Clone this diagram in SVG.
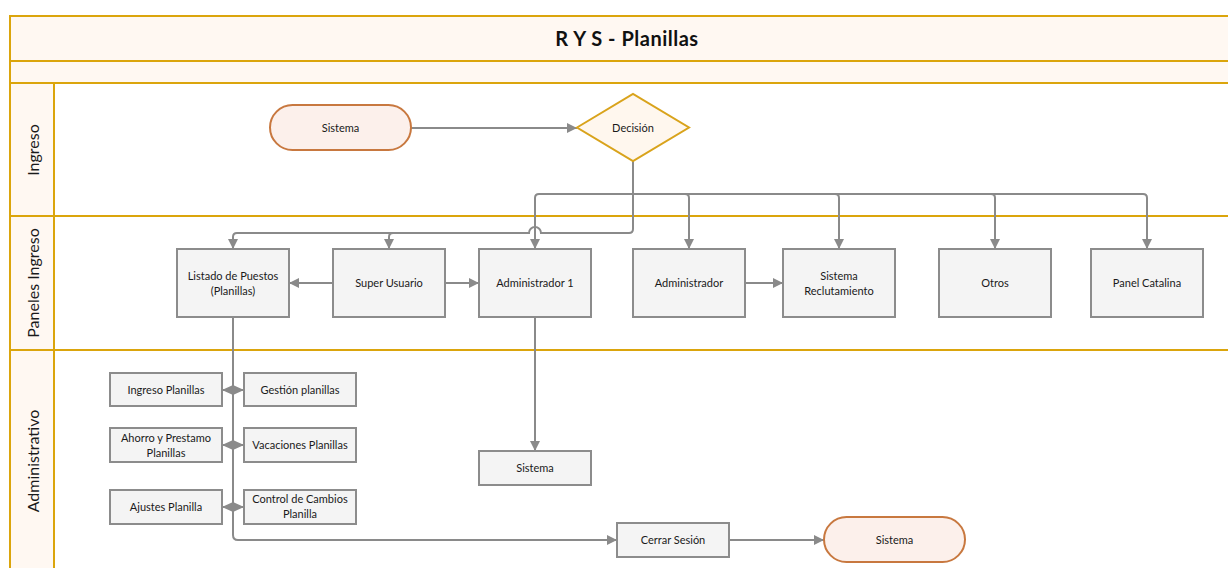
<svg xmlns="http://www.w3.org/2000/svg" width="1228" height="568" viewBox="0 0 1228 568">
  <style>
    .lane { fill: #fff8f2; stroke: #dba50c; stroke-width: 2; }
    .body { fill: #ffffff; stroke: #dba50c; stroke-width: 2; }
    .laneLabel { font-family: Lato, "Open Sans", sans-serif; font-size: 16px; fill: #1a1a1a; text-anchor: middle; }
    .title { font-family: Lato, "Open Sans", sans-serif; font-size: 20px; font-weight: bold; fill: #111; text-anchor: middle; letter-spacing: 0.5px; }
    .box { fill: #f4f4f4; stroke: #8c8c8c; stroke-width: 2; }
    .term { fill: #fcf0eb; stroke: #c8783f; stroke-width: 2; }
    .dec { fill: #fff7ee; stroke: #d9a31b; stroke-width: 2; }
    .lbl { font-family: Lato, "Open Sans", sans-serif; font-size: 11px; fill: #1a1a1a; text-anchor: middle; }
    .conn { fill: none; stroke: #8a8a8a; stroke-width: 2; }
    .arr { marker-end: url(#arrow); }
    .dia { fill: #8a8a8a; stroke: none; }
  </style>
  <defs>
    <marker id="arrow" viewBox="0 0 10 10" refX="10" refY="5" markerUnits="userSpaceOnUse" markerWidth="11" markerHeight="10" orient="auto">
      <path d="M0,0 L10,5 L0,10 z" fill="#8a8a8a"/>
    </marker>
  </defs>

  <!-- swimlane frame -->
  <g id="frame">
    <rect class="lane" x="10" y="16" width="1230" height="45"/>
    <rect class="lane" x="10" y="61" width="1230" height="22"/>
    <rect class="body" x="54" y="83" width="1186" height="133"/>
    <rect class="body" x="54" y="216" width="1186" height="134"/>
    <rect class="body" x="54" y="350" width="1186" height="230"/>
    <rect class="lane" x="10" y="83" width="44" height="133"/>
    <rect class="lane" x="10" y="216" width="44" height="134"/>
    <rect class="lane" x="10" y="350" width="44" height="230"/>
    <text class="title" x="627" y="46">R Y S - Planillas</text>
    <text class="laneLabel" transform="translate(39,150) rotate(-90)">Ingreso</text>
    <text class="laneLabel" transform="translate(39,283) rotate(-90)">Paneles Ingreso</text>
    <text class="laneLabel" transform="translate(39,461) rotate(-90)">Administrativo</text>
  </g>

  <!-- connectors -->
  <g id="connectors">
    <path class="conn arr" d="M411,128 H577"/>
    <!-- decision fan-out -->
    <path class="conn arr" d="M633,161 V229 Q633,233 629,233 H541 A6,6 0 0 0 529,233 H237 Q233,233 233,237 V249"/>
    <path class="conn arr" d="M393,233 Q389,233 389,237 V249"/>
    <path class="conn arr" d="M633,194 H539 Q535,194 535,198 V249"/>
    <path class="conn arr" d="M633,194 H1143 Q1147,194 1147,198 V249"/>
    <path class="conn arr" d="M685,194 Q689,194 689,198 V249"/>
    <path class="conn arr" d="M835,194 Q839,194 839,198 V249"/>
    <path class="conn arr" d="M991,194 Q995,194 995,198 V249"/>
    <!-- panel links -->
    <path class="conn arr" d="M333,283 H289"/>
    <path class="conn arr" d="M445,283 H479"/>
    <path class="conn arr" d="M745,283 H783"/>
    <path class="conn arr" d="M535,317 V451"/>
    <!-- planillas branch -->
    <path class="conn arr" d="M233,317 V535 Q233,540 238,540 H617"/>
    <path class="conn arr" d="M730,540 H824"/>
    <path class="conn" d="M222,390 H244 M222,445 H244 M222,507 H244"/>
    <polygon class="dia" points="222,390 233,385 244,390 233,395"/>
    <polygon class="dia" points="222,445 233,440 244,445 233,450"/>
    <polygon class="dia" points="222,507 233,502 244,507 233,512"/>
  </g>

  <g id="n-sistema-inicio">
    <rect class="term" x="270" y="105" width="141" height="45" rx="22.5"/>
    <text class="lbl" x="340.5" y="131.5">Sistema</text>
  </g>
  <g id="n-decision">
    <polygon class="dec" points="577,127.5 633,94 689,127.5 633,161"/>
    <text class="lbl" x="633" y="131.5">Decisión</text>
  </g>

  <g id="n-listado">
    <rect class="box" x="177" y="249" width="112" height="68"/>
    <text class="lbl" x="233" y="280">Listado de Puestos</text>
    <text class="lbl" x="233" y="295">(Planillas)</text>
  </g>
  <g id="n-super-usuario">
    <rect class="box" x="333" y="249" width="112" height="68"/>
    <text class="lbl" x="389" y="287">Super Usuario</text>
  </g>
  <g id="n-administrador-1">
    <rect class="box" x="479" y="249" width="112" height="68"/>
    <text class="lbl" x="535" y="287">Administrador 1</text>
  </g>
  <g id="n-administrador">
    <rect class="box" x="633" y="249" width="112" height="68"/>
    <text class="lbl" x="689" y="287">Administrador</text>
  </g>
  <g id="n-reclutamiento">
    <rect class="box" x="783" y="249" width="112" height="68"/>
    <text class="lbl" x="839" y="280">Sistema</text>
    <text class="lbl" x="839" y="295">Reclutamiento</text>
  </g>
  <g id="n-otros">
    <rect class="box" x="939" y="249" width="112" height="68"/>
    <text class="lbl" x="995" y="287">Otros</text>
  </g>
  <g id="n-panel-catalina">
    <rect class="box" x="1091" y="249" width="112" height="68"/>
    <text class="lbl" x="1147" y="287">Panel Catalina</text>
  </g>

  <g id="n-ingreso-planillas">
    <rect class="box" x="110" y="373" width="112" height="33"/>
    <text class="lbl" x="166" y="393.5">Ingreso Planillas</text>
  </g>
  <g id="n-gestion-planillas">
    <rect class="box" x="244" y="373" width="112" height="33"/>
    <text class="lbl" x="300" y="393.5">Gestión planillas</text>
  </g>
  <g id="n-ahorro">
    <rect class="box" x="110" y="428" width="112" height="34"/>
    <text class="lbl" x="166" y="442">Ahorro y Prestamo</text>
    <text class="lbl" x="166" y="457">Planillas</text>
  </g>
  <g id="n-vacaciones">
    <rect class="box" x="244" y="428" width="112" height="34"/>
    <text class="lbl" x="300" y="449">Vacaciones Planillas</text>
  </g>
  <g id="n-ajustes">
    <rect class="box" x="110" y="490" width="112" height="34"/>
    <text class="lbl" x="166" y="511">Ajustes Planilla</text>
  </g>
  <g id="n-control-cambios">
    <rect class="box" x="244" y="490" width="112" height="34"/>
    <text class="lbl" x="300" y="503">Control de Cambios</text>
    <text class="lbl" x="300" y="518">Planilla</text>
  </g>

  <g id="n-sistema-admin">
    <rect class="box" x="479" y="451" width="112" height="34"/>
    <text class="lbl" x="535" y="472">Sistema</text>
  </g>
  <g id="n-cerrar-sesion">
    <rect class="box" x="617" y="523" width="112" height="34"/>
    <text class="lbl" x="673" y="544">Cerrar Sesión</text>
  </g>
  <g id="n-sistema-fin">
    <rect class="term" x="824" y="517" width="141" height="45" rx="22.5"/>
    <text class="lbl" x="894.5" y="544">Sistema</text>
  </g>
</svg>
